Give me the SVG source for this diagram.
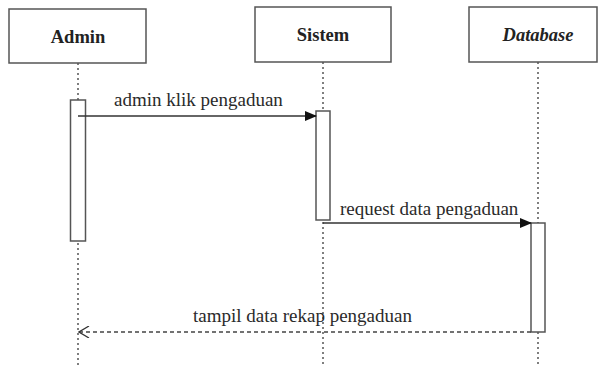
<svg xmlns="http://www.w3.org/2000/svg" width="598" height="366" viewBox="0 0 598 366">
  <style>
    .box { fill: #fff; stroke: #555; stroke-width: 1.5; }
    .act { fill: #fff; stroke: #555; stroke-width: 1.5; }
    .life { stroke: #555; stroke-width: 1.5; stroke-dasharray: 2 3; fill: none; }
    .title { font-family: "Liberation Serif", "Times New Roman", serif; font-size: 18.5px; font-weight: bold; fill: #222; text-anchor: middle; }
    .msg { font-family: "Liberation Serif", "Times New Roman", serif; font-size: 19px; fill: #2a2a2a; }
    .line { stroke: #333; stroke-width: 1.5; fill: none; }
    .dash { stroke: #444; stroke-width: 1.3; stroke-dasharray: 4 3; fill: none; }
  </style>
  <defs>
    <marker id="solid" markerWidth="12" markerHeight="10" refX="11" refY="5" orient="auto" markerUnits="userSpaceOnUse">
      <path d="M0,0 L12,5 L0,10 Z" fill="#111"/>
    </marker>
    <marker id="open" markerWidth="12" markerHeight="12" refX="11" refY="6" orient="auto" markerUnits="userSpaceOnUse">
      <path d="M1,0 L11,6 L1,12" fill="none" stroke="#333" stroke-width="1.3"/>
    </marker>
  </defs>
  <rect width="598" height="366" fill="#fff"/>

  <!-- lifelines -->
  <g id="lifelines">
    <line class="life" x1="78" y1="63" x2="78" y2="366"/>
    <line class="life" x1="323" y1="62" x2="323" y2="366"/>
    <line class="life" x1="538" y1="62" x2="538" y2="366"/>
  </g>

  <g id="admin">
    <rect class="box" x="9" y="9" width="137" height="54"/>
    <text class="title" x="78" y="43">Admin</text>
    <rect class="act" x="70.5" y="100" width="15" height="141"/>
  </g>

  <g id="sistem">
    <rect class="box" x="255" y="7" width="136" height="55"/>
    <text class="title" x="323" y="41">Sistem</text>
    <rect class="act" x="316" y="111" width="14" height="109"/>
  </g>

  <g id="database">
    <rect class="box" x="469" y="7" width="128" height="55"/>
    <text class="title" x="538" y="41" font-style="italic">Database</text>
    <rect class="act" x="531" y="223" width="14" height="109"/>
  </g>

  <g id="connectors">
    <line class="line" x1="78" y1="116" x2="316" y2="116" marker-end="url(#solid)"/>
    <text class="msg" x="114" y="106">admin klik pengaduan</text>
    <line class="line" x1="323" y1="223" x2="531" y2="223" marker-end="url(#solid)"/>
    <text class="msg" x="340" y="215">request data pengaduan</text>
    <line class="dash" x1="531" y1="332" x2="79" y2="332" marker-end="url(#open)"/>
    <text class="msg" x="193" y="322">tampil data rekap pengaduan</text>
  </g>
</svg>
